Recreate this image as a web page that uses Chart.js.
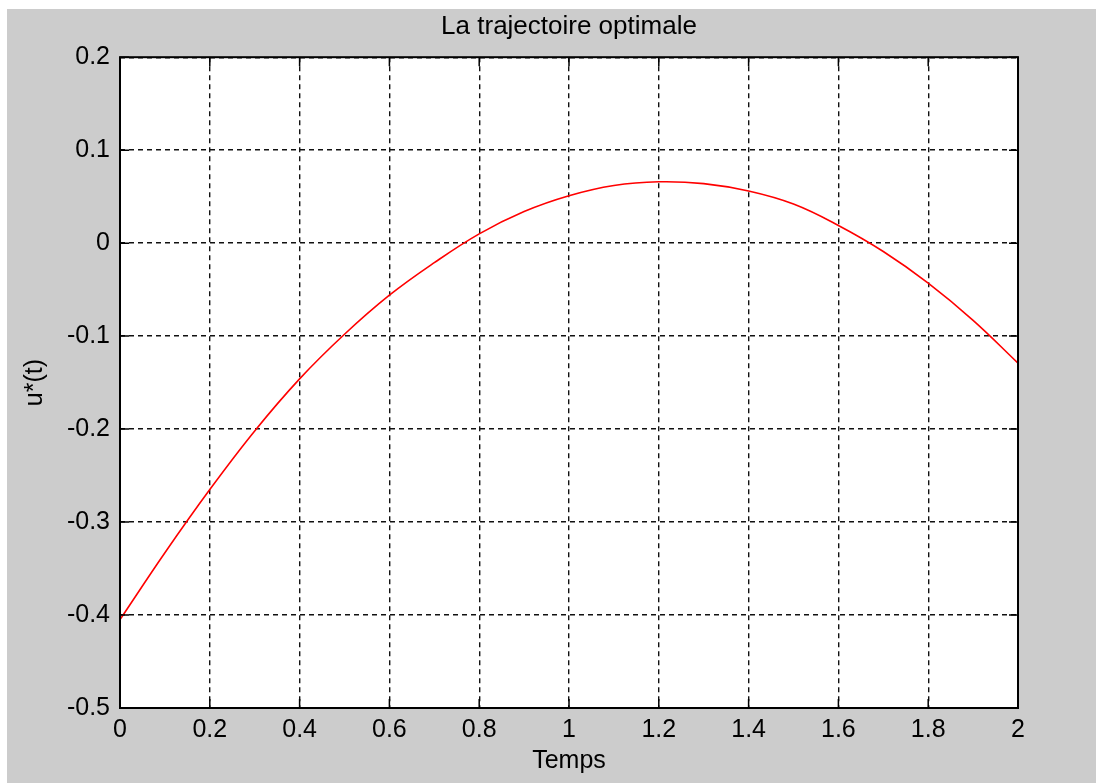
<!DOCTYPE html>
<html>
<head>
<meta charset="utf-8">
<script src="https://cdn.jsdelivr.net/npm/chart.js@4/dist/chart.umd.min.js"></script>
<style>
  html, body { margin: 0; padding: 0; background: #fff; }
  #fond { position: absolute; left: 7px; top: 9px; width: 1089px; height: 774px; background: #cccccc; }
</style>
</head>
<body>
<div id="fond"><canvas id="graphe" width="1089" height="774"></canvas></div>
<script>
// temps (s) et commande optimale u*(t)
const temps = [0, 0.1, 0.2, 0.3, 0.4, 0.5, 0.6, 0.7, 0.8, 0.9, 1.0,
               1.1, 1.2, 1.3, 1.4, 1.5, 1.6, 1.7, 1.8, 1.9, 2.0];
const commande = [-0.405, -0.333, -0.265, -0.202, -0.146, -0.098, -0.056, -0.021, 0.010, 0.034, 0.051,
                  0.062, 0.066, 0.064, 0.056, 0.042, 0.019, -0.009, -0.043, -0.083, -0.129];

const xTicks = [0, 0.2, 0.4, 0.6, 0.8, 1, 1.2, 1.4, 1.6, 1.8, 2];
const xTickLabels = ['0', '0.2', '0.4', '0.6', '0.8', '1', '1.2', '1.4', '1.6', '1.8', '2'];
const yTicks = [-0.5, -0.4, -0.3, -0.2, -0.1, 0, 0.1, 0.2];
const yTickLabels = ['-0.5', '-0.4', '-0.3', '-0.2', '-0.1', '0', '0.1', '0.2'];

const police = { family: "'Liberation Sans', Arial, sans-serif", size: 25 };

// cadre noir et petites graduations vers l'intérieur (style matlab)
const cadre = {
  id: 'cadre',
  afterDatasetsDraw(chart) {
    const { ctx, chartArea: a, scales: { x, y } } = chart;
    const tl = 9;
    ctx.save();
    ctx.strokeStyle = '#000';
    ctx.lineWidth = 1.5;
    ctx.beginPath();
    x.ticks.forEach(t => {
      const px = x.getPixelForValue(t.value);
      ctx.moveTo(px, a.bottom); ctx.lineTo(px, a.bottom - tl);
      ctx.moveTo(px, a.top); ctx.lineTo(px, a.top + tl);
    });
    y.ticks.forEach(t => {
      const py = y.getPixelForValue(t.value);
      ctx.moveTo(a.left, py); ctx.lineTo(a.left + tl, py);
      ctx.moveTo(a.right, py); ctx.lineTo(a.right - tl, py);
    });
    ctx.stroke();
    ctx.lineWidth = 2;
    ctx.strokeRect(a.left, a.top, a.right - a.left, a.bottom - a.top);
    ctx.restore();
  }
};

const fondBlanc = {
  id: 'fondBlanc',
  beforeDraw(chart) {
    const { ctx, chartArea: a } = chart;
    ctx.save();
    ctx.fillStyle = '#fff';
    ctx.fillRect(a.left, a.top, a.right - a.left, a.bottom - a.top);
    ctx.restore();
  }
};

new Chart(document.getElementById('graphe'), {
  type: 'line',
  data: {
    datasets: [{
      data: temps.map((t, i) => ({ x: t, y: commande[i] })),
      borderColor: '#ff0000',
      borderWidth: 1.6,
      pointRadius: 0,
      tension: 0.4,
      fill: false
    }]
  },
  options: {
    responsive: false,
    animation: false,
    layout: { padding: { left: 0, right: 78, top: 0, bottom: 0 } },
    plugins: {
      legend: { display: false },
      tooltip: { enabled: false },
      title: {
        display: true,
        fullSize: false,
        text: 'La trajectoire optimale',
        color: '#000',
        font: { ...police, size: 26, weight: 'normal' },
        padding: { top: 2, bottom: 15 }
      }
    },
    scales: {
      x: {
        type: 'linear',
        min: 0, max: 2,
        afterBuildTicks: s => { s.ticks = xTicks.map(v => ({ value: v })); },
        afterFit: s => { s.height = 75; },
        ticks: {
          color: '#000', font: police, padding: 7, maxRotation: 0,
          callback: (v, i) => xTickLabels[i]
        },
        grid: { color: '#111', lineWidth: 1.4, drawTicks: false },
        border: { display: false, dash: [5, 4] },
        title: { display: true, text: 'Temps', color: '#000', font: police, padding: { top: 7, bottom: 7 } }
      },
      y: {
        min: -0.5, max: 0.2,
        afterBuildTicks: s => { s.ticks = yTicks.map(v => ({ value: v })); },
        afterFit: s => { s.width = 113; },
        ticks: {
          color: '#000', font: police, padding: 10,
          callback: (v, i) => yTickLabels[i]
        },
        grid: { color: '#111', lineWidth: 1.4, drawTicks: false },
        border: { display: false, dash: [5, 4] },
        title: { display: true, text: 'u*(t)', color: '#000', font: police, padding: { top: 13, bottom: 13 } }
      }
    }
  },
  plugins: [fondBlanc, cadre]
});
</script>
</body>
</html>
